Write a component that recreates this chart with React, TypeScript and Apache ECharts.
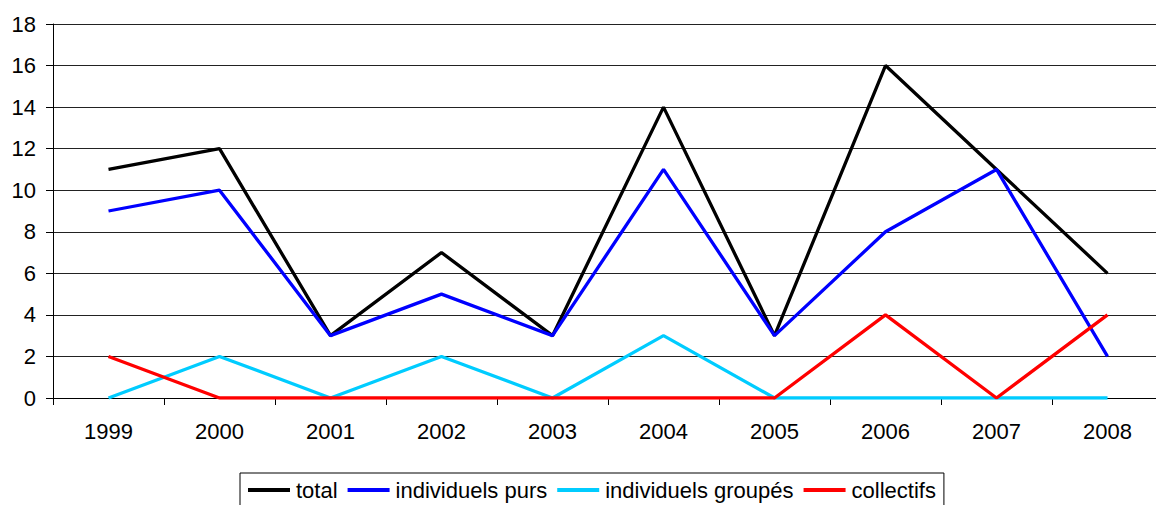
import React, { useEffect, useRef } from "react";
import * as echarts from "echarts";

const years = ["1999", "2000", "2001", "2002", "2003", "2004", "2005", "2006", "2007", "2008"];
const total = [11, 12, 3, 7, 3, 14, 3, 16, 11, 6];
const individuelsPurs = [9, 10, 3, 5, 3, 11, 3, 8, 11, 2];
const individuelsGroupes = [0, 2, 0, 2, 0, 3, 0, 0, 0, 0];
const collectifs = [2, 0, 0, 0, 0, 0, 0, 4, 0, 4];

const seriesNames = ["total", "individuels purs", "individuels groupés", "collectifs"];
const seriesColors = ["#000000", "#0000ff", "#00ccff", "#ff0000"];
const seriesData = [total, individuelsPurs, individuelsGroupes, collectifs];

const FONT = "'Liberation Sans', Arial, sans-serif";

export default function App() {
  const ref = useRef<HTMLDivElement>(null);
  useEffect(() => {
    if (!ref.current) return;
    const chart = echarts.init(ref.current, null, { renderer: "svg" });
    chart.setOption({
      animation: false,
      backgroundColor: "#ffffff",
      textStyle: { fontFamily: FONT },
      grid: { left: 53, right: 7, top: 24, bottom: 107, containLabel: false },
      legend: {
        left: 240,
        top: 473,
        padding: [6, 8, 6, 8],
        borderColor: "#000",
        borderWidth: 1,
        borderRadius: 0,
        itemWidth: 42,
        itemHeight: 4,
        itemGap: 10,
        textStyle: { fontFamily: FONT, fontSize: 22, color: "#000", padding: [0, 0, 0, 1] },
        data: seriesNames.map((n) => ({ name: n, icon: "rect" })),
        itemStyle: { borderWidth: 0 },
      },
      xAxis: {
        type: "category",
        data: years,
        boundaryGap: true,
        axisLine: { lineStyle: { color: "#000", width: 1 } },
        axisTick: { show: true, length: 7, inside: false, lineStyle: { color: "#000" } },
        axisLabel: { fontFamily: FONT, fontSize: 22, color: "#000", margin: 22 },
        splitLine: { show: false },
      },
      yAxis: {
        type: "value",
        min: 0,
        max: 18,
        interval: 2,
        axisLine: { show: true, lineStyle: { color: "#000", width: 1 } },
        axisTick: { show: true, length: 7, lineStyle: { color: "#000" } },
        axisLabel: { fontFamily: FONT, fontSize: 22, color: "#000", margin: 17 },
        splitLine: { show: true, lineStyle: { color: "#222", width: 1.2 } },
      },
      series: seriesNames.map((name, i) => ({
        name,
        type: "line",
        data: seriesData[i],
        symbol: "none",
        showSymbol: false,
        lineStyle: { color: seriesColors[i], width: 3.3 },
        itemStyle: { color: seriesColors[i] },
      })),
    });
    return () => chart.dispose();
  }, []);
  return (
    <div
      ref={ref}
      style={{ position: "fixed", left: 0, top: 0, width: 1170, height: 505 }}
    />
  );
}
